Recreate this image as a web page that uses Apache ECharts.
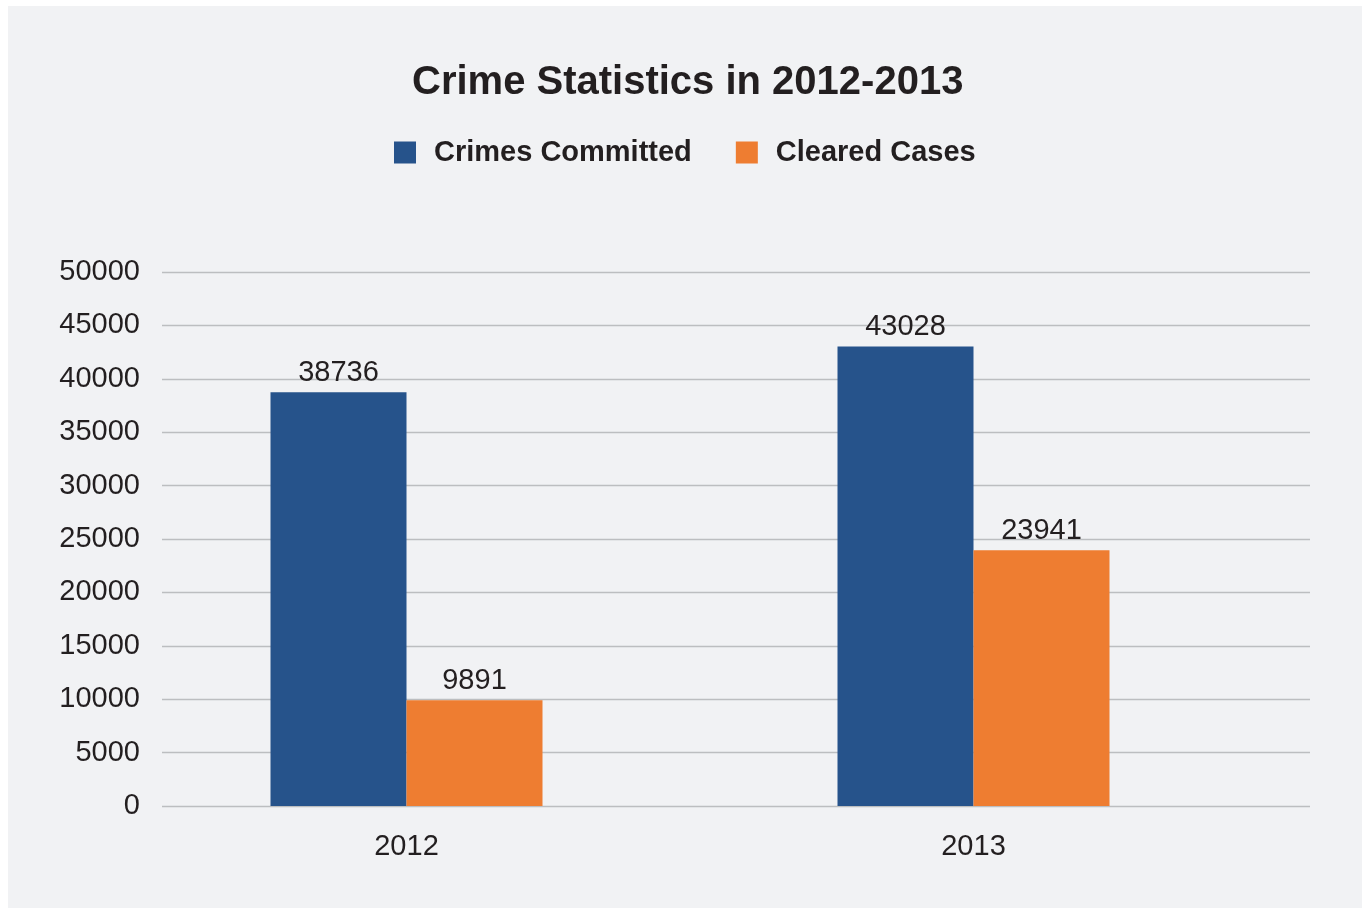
<!DOCTYPE html>
<html>
<head>
<meta charset="utf-8">
<script src="https://cdn.jsdelivr.net/npm/echarts@6/dist/echarts.min.js"></script>
<style>
html,body{margin:0;padding:0;background:#ffffff;}
#panel{position:absolute;left:8px;top:6px;width:1354px;height:902px;background:#f1f2f4;}
#chart{position:absolute;left:0;top:0;width:1362px;height:909px;}
</style>
</head>
<body>
<div id="panel"></div>
<div id="chart"></div>
<script>
var categories = ['2012', '2013'];
var crimesCommitted = [38736, 43028];
var clearedCases = [9891, 23941];
var yTicks = [0, 5000, 10000, 15000, 20000, 25000, 30000, 35000, 40000, 45000, 50000];

var textColor = '#231f20';
var font = 'Liberation Sans, Arial, sans-serif';
var chart = echarts.init(document.getElementById('chart'), null, {renderer: 'canvas'});
chart.setOption({
  backgroundColor: 'transparent',
  animation: false,
  title: {
    text: 'Crime Statistics in 2012-2013',
    left: 412,
    top: 63,
    padding: 0,
    textStyle: {fontFamily: font, fontSize: 40, fontWeight: 'bold', color: textColor}
  },
  legend: {
    top: 138,
    left: 394,
    padding: 0,
    itemWidth: 22,
    itemHeight: 22,
    itemGap: 44,
    icon: 'rect',
    textStyle: {fontFamily: font, fontSize: 29, fontWeight: 'bold', color: textColor, padding: [0, 0, 0, 13]},
    data: ['Crimes Committed', 'Cleared Cases']
  },
  grid: [
    {left: 162, right: 52, top: 272, bottom: 103},
    {left: 123, width: 1134, top: 272, bottom: 103}
  ],
  xAxis: [
    {gridIndex: 0, type: 'value', show: false, min: 0, max: 1},
    {
      gridIndex: 1, type: 'category', data: categories,
      axisLine: {show: false}, axisTick: {show: false},
      axisLabel: {fontFamily: font, fontSize: 29, color: textColor, margin: 26}
    }
  ],
  yAxis: [
    {
      gridIndex: 0, type: 'value', min: yTicks[0], max: yTicks[yTicks.length - 1], interval: yTicks[1] - yTicks[0],
      axisLine: {show: false}, axisTick: {show: false},
      axisLabel: {fontFamily: font, fontSize: 29, color: textColor, margin: 22, formatter: function (v) { return String(v); }},
      splitLine: {lineStyle: {color: '#bcbec0', width: 1.3}}
    },
    {gridIndex: 1, type: 'value', min: yTicks[0], max: yTicks[yTicks.length - 1], show: false, splitLine: {show: false}}
  ],
  series: [
    {
      name: 'Crimes Committed', type: 'bar', xAxisIndex: 1, yAxisIndex: 1,
      data: crimesCommitted, barWidth: 136, barGap: '0%',
      itemStyle: {color: '#26538b'},
      label: {show: true, position: 'top', distance: 5, fontFamily: font, fontSize: 29, color: textColor}
    },
    {
      name: 'Cleared Cases', type: 'bar', xAxisIndex: 1, yAxisIndex: 1,
      data: clearedCases, barWidth: 136, barGap: '0%',
      itemStyle: {color: '#ee7d31'},
      label: {show: true, position: 'top', distance: 5, fontFamily: font, fontSize: 29, color: textColor}
    }
  ]
});
</script>
</body>
</html>
